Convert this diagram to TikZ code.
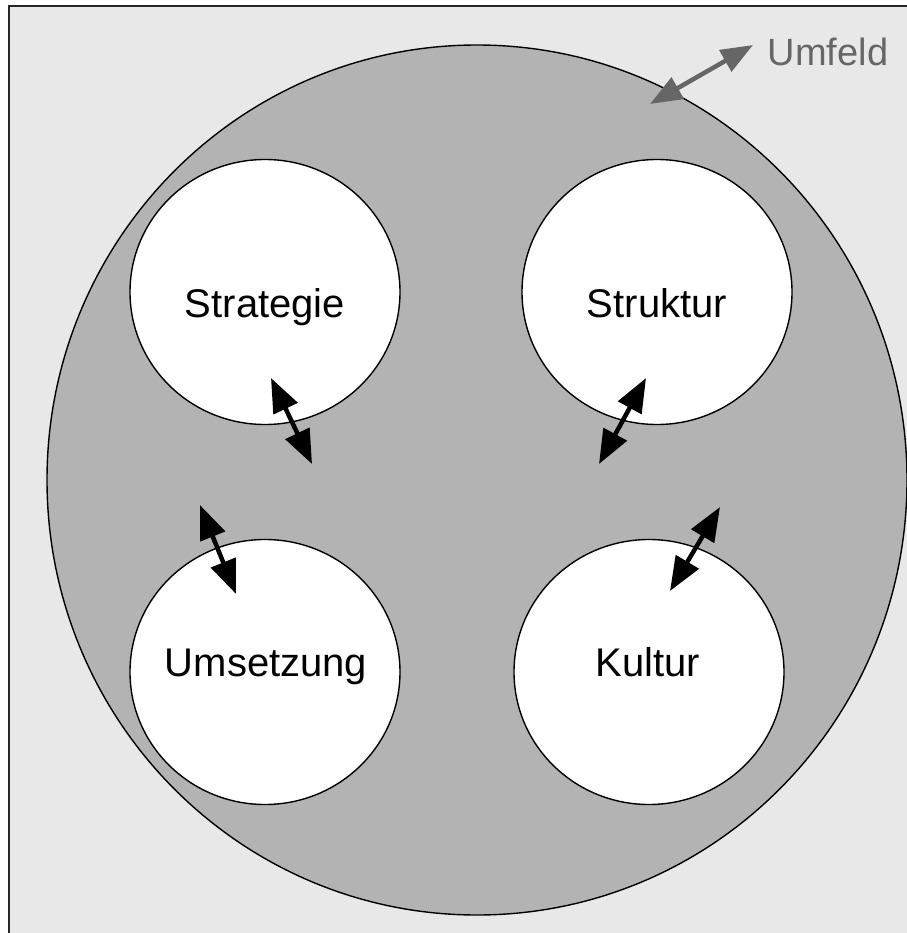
\documentclass[tikz,border=0pt]{standalone}
\usepackage{fontspec}
\setmainfont{Liberation Sans}
\usetikzlibrary{shapes.geometric,arrows.meta}
\definecolor{bgc}{HTML}{E8E8E8}
\definecolor{circc}{HTML}{B3B3B3}
\definecolor{umc}{HTML}{666666}
\tikzset{
  inner/.style={ellipse, draw=black, line width=1.4pt, fill=white, minimum width=270pt, minimum height=265pt, inner sep=0pt},
  lbl/.style={font=\fontsize{40}{48}\selectfont, inner sep=0pt, anchor=base},
  dbl/.style={line width=4.5pt, {Triangle[length=34pt,width=26pt]}-{Triangle[length=34pt,width=26pt]}, black},
  dblgray/.style={line width=4.5pt, {Triangle[length=32pt,width=24pt]}-{Triangle[length=32pt,width=24pt]}, umc}
}
\begin{document}
\begin{tikzpicture}[x=1pt,y=-1pt]
\useasboundingbox (0,0) rectangle (906,933);
\fill[white] (0,0) rectangle (906,933);
\draw[fill=bgc, line width=2.5pt, draw=black!85] (9,6) rectangle (930,960);
\node[ellipse, draw=black, line width=1.4pt, fill=circc, minimum width=860pt, minimum height=870pt, inner sep=0pt] (umw) at (477,480) {};
\node[inner] (strat) at (265,292) {};
\node[inner] (strukt) at (657,292) {};
\node[inner] (ums) at (265,672) {};
\node[inner] (kult) at (649,672) {};
\node[lbl] (tstrat) at (265,317) {Strategie};
\node[lbl] (tstrukt) at (657,317) {Struktur};
\node[lbl] (tums) at (266,676) {Umsetzung};
\node[lbl] (tkult) at (648,676) {Kultur};
\node[text=umc, font=\fontsize{38}{44}\selectfont, anchor=center] (umf) at (828,52) {Umfeld};
\coordinate (u1) at (650,104);
\coordinate (u2) at (753,45);
\draw[dblgray] (u1) -- (u2);
\coordinate (a1) at (271,378);
\coordinate (a2) at (312,464);
\draw[dbl] (a1) -- (a2);
\coordinate (b1) at (646,378);
\coordinate (b2) at (599,464);
\draw[dbl] (b1) -- (b2);
\coordinate (c1) at (200,505);
\coordinate (c2) at (236,594);
\draw[dbl] (c1) -- (c2);
\coordinate (d1) at (720,507);
\coordinate (d2) at (670,591);
\draw[dbl] (d1) -- (d2);
\end{tikzpicture}
\end{document}
